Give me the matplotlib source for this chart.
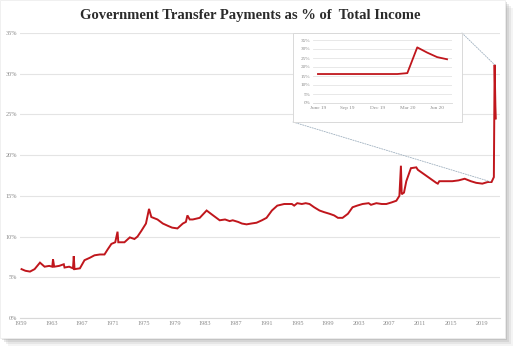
import matplotlib
matplotlib.use("Agg")
from matplotlib import pyplot as plt
from matplotlib.patches import Rectangle, ConnectionPatch

# main series: (year, % of total income)
YEARS = [1959.1, 1959.6, 1960.2, 1960.8, 1961.5, 1962.1, 1962.7, 1963.1, 1963.2, 1963.35,
         1964.0, 1964.6, 1964.7, 1965.3, 1965.8, 1965.9, 1966.0, 1966.7, 1967.3, 1968.0,
         1968.6, 1969.3, 1969.9, 1970.3, 1970.8, 1971.3, 1971.6, 1971.7, 1972.5, 1973.2,
         1973.8, 1974.2, 1974.7, 1975.3, 1975.7, 1976.0, 1976.8, 1977.5, 1978.2, 1978.7,
         1979.4, 1980.1, 1980.5, 1980.7, 1981.0, 1981.4, 1982.3, 1983.2, 1983.9, 1984.9,
         1985.6, 1986.2, 1986.6, 1987.3, 1987.8, 1988.4, 1989.0, 1989.7, 1990.4, 1991.0,
         1991.7, 1992.4, 1993.3, 1994.3, 1994.6, 1995.0, 1995.6, 1996.1, 1996.6, 1997.2,
         1997.9, 1998.5, 1999.2, 1999.8, 2000.3, 2000.9, 2001.6, 2002.2, 2002.8, 2003.5,
         2004.3, 2004.6, 2005.3, 2006.0, 2006.6, 2007.3, 2007.9, 2008.3, 2008.5, 2008.6,
         2008.9, 2009.2, 2009.8, 2010.5, 2010.7, 2011.3, 2011.9, 2012.5, 2013.1, 2013.3,
         2013.5, 2014.3, 2015.2, 2016.0, 2016.8, 2017.6, 2018.3, 2019.1, 2019.8, 2020.3,
         2020.6, 2020.7, 2020.75, 2020.8, 2020.85]
PCT = [6.0, 5.8, 5.7, 6.0, 6.8, 6.3, 6.4, 6.3, 7.2, 6.3,
       6.4, 6.6, 6.2, 6.3, 6.1, 7.6, 6.0, 6.1, 7.1, 7.4,
       7.7, 7.8, 7.8, 8.4, 9.1, 9.3, 10.6, 9.3, 9.3, 9.9,
       9.7, 10.0, 10.7, 11.6, 13.4, 12.4, 12.1, 11.6, 11.3, 11.1,
       11.0, 11.6, 11.8, 12.6, 12.1, 12.1, 12.3, 13.2, 12.7, 12.0,
       12.1, 11.9, 12.0, 11.8, 11.6, 11.5, 11.6, 11.7, 12.0, 12.3,
       13.2, 13.8, 14.0, 14.0, 13.8, 14.1, 14.0, 14.1, 14.0, 13.6,
       13.2, 13.0, 12.8, 12.6, 12.3, 12.3, 12.8, 13.6, 13.8, 14.0,
       14.1, 13.9, 14.1, 14.0, 14.0, 14.2, 14.4, 15.0, 18.7, 15.2,
       15.4, 16.8, 18.4, 18.5, 18.2, 17.8, 17.4, 17.0, 16.6, 16.5,
       16.8, 16.8, 16.8, 16.9, 17.1, 16.8, 16.6, 16.5, 16.7, 16.7,
       17.3, 31.1, 28.5, 26.0, 24.5]

X_TICKS = [1959, 1963, 1967, 1971, 1975, 1979, 1983, 1987, 1991, 1995,
           1999, 2003, 2007, 2011, 2015, 2019]

# inset: monthly, Jun 19 .. Jul 20
INSET_MONTHS = list(range(14))
INSET_PCT = [16.1, 16.1, 16.1, 16.1, 16.1, 16.1, 16.1, 16.1, 16.1, 16.6,
             30.9, 28.0, 25.5, 24.3]
INSET_TICKS = [0, 3, 6, 9, 12]
INSET_LABELS = ["June 19", "Sep 19", "Dec 19", "Mar 20", "Jun 20"]

RED = "#c0161c"
GRID = "#e4e4e4"
TXT = "#8a8a8a"
W, H = 520, 352


def px(x, y):
    # pixel coords (top-left origin) -> figure fraction
    return x / W, 1 - y / H


fig = plt.figure(figsize=(W / 100, H / 100), dpi=100)

# card with soft shadow
for i, a in enumerate([0.10, 0.15, 0.22, 0.30]):
    off = 8 - i * 2
    fig.patches.append(Rectangle(px(off, 338 + off), 505 / W, 338 / H,
                                 transform=fig.transFigure, color="#9a9a9a",
                                 alpha=a, lw=0, zorder=0))
fig.patches.append(Rectangle(px(0, 338), 505 / W, 338 / H, transform=fig.transFigure,
                             facecolor="white", edgecolor="#eeeeee", lw=0.6, zorder=0.5))

fig.text(250 / W, 1 - 15 / H, "Government Transfer Payments as % of  Total Income",
         ha="center", va="center", family="Liberation Serif", fontsize=10.5,
         color="#2b2b2b", fontweight="bold")

l, b = px(20, 318)
r, t = px(500, 33)
ax = fig.add_axes([l, b, r - l, t - b], zorder=2)
ax.set_facecolor("none")
ax.plot(YEARS, PCT, color=RED, lw=1.4, solid_joinstyle="miter", zorder=3)
ax.set_xlim(1958.9, 2021.4)
ax.set_ylim(0, 35)
ax.set_yticks(range(0, 36, 5))
ax.set_yticklabels([f"{v}%" for v in range(0, 36, 5)])
ax.set_xticks(X_TICKS)
ax.set_xticklabels([str(v) for v in X_TICKS])
ax.grid(axis="y", color=GRID, lw=0.8)
ax.set_axisbelow(True)
for s in ["top", "right", "left"]:
    ax.spines[s].set_visible(False)
ax.spines["bottom"].set_color("#d8d8d8")
ax.spines["bottom"].set_linewidth(0.8)
ax.tick_params(length=0, labelsize=4.5, labelcolor=TXT, pad=2)
for lab in ax.get_xticklabels() + ax.get_yticklabels():
    lab.set_family("Liberation Serif")

# inset card
fig.patches.append(Rectangle(px(293, 122), (462 - 293) / W, (122 - 33) / H,
                             transform=fig.transFigure, facecolor="white",
                             edgecolor="#d9d9d9", lw=0.7, zorder=4))
il, ib = px(313, 103)
ir, it = px(452, 40)
ins = fig.add_axes([il, ib, ir - il, it - ib], zorder=5)
ins.set_facecolor("none")
ins.plot(INSET_MONTHS, INSET_PCT, color=RED, lw=1.3)
ins.set_xlim(-0.5, 13.5)
ins.set_ylim(0, 35)
ins.set_yticks(range(0, 36, 5))
ins.set_yticklabels([f"{v}%" for v in range(0, 36, 5)])
ins.set_xticks(INSET_TICKS)
ins.set_xticklabels(INSET_LABELS)
ins.grid(axis="y", color=GRID, lw=0.6)
ins.set_axisbelow(True)
for s in ["top", "right", "left"]:
    ins.spines[s].set_visible(False)
ins.spines["bottom"].set_color("#d8d8d8")
ins.spines["bottom"].set_linewidth(0.6)
ins.tick_params(length=0, labelsize=3.8, labelcolor=TXT, pad=2)
for lab in ins.get_xticklabels() + ins.get_yticklabels():
    lab.set_family("Liberation Serif")

# zoom connectors from inset corners to the 2020 spike
for corner, pt in [((462 / W, 1 - 33 / H), (YEARS[-4], PCT[-4])),
                   ((293 / W, 1 - 122 / H), (YEARS[-6], PCT[-6]))]:
    con = ConnectionPatch(xyA=corner, coordsA="figure fraction", xyB=pt, coordsB=ax.transData,
                          color="#9fb0bf", lw=0.6, linestyle=(0, (1.5, 1.5)), zorder=3)
    fig.add_artist(con)

fig.savefig("out.png", dpi=100)
